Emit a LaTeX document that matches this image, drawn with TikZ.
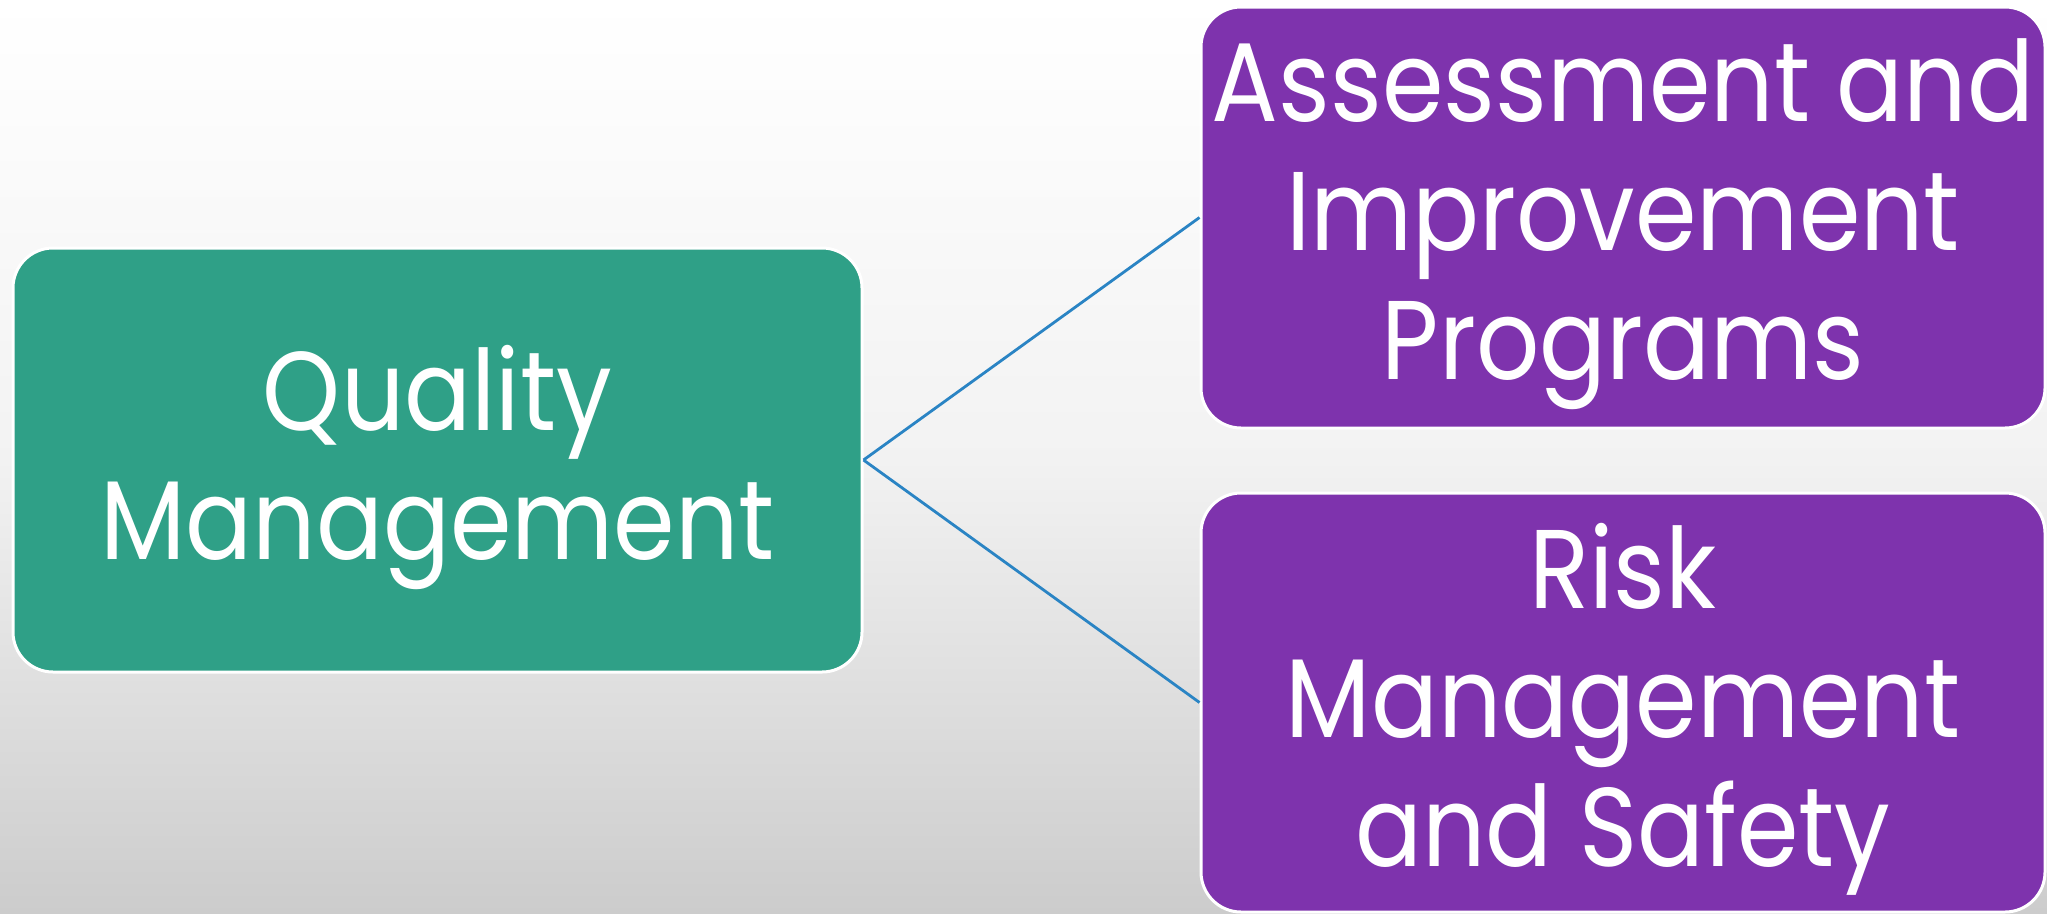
\documentclass[tikz,border=0pt]{standalone}
\usepackage{fontspec}
\setmainfont[FakeStretch=0.885]{Poppins}
\begin{document}
\begin{tikzpicture}[x=1pt,y=-1pt,
  box/.style={rectangle, rounded corners=40pt, draw=white, line width=3pt,
    text=white, align=center, inner sep=0pt, text depth=16pt,
    font=\fontsize{112}{129}\selectfont},
  quality/.style={box, fill=qgreen},
  program/.style={box, fill=ppurple},
  link/.style={draw=lblue, line width=2.8pt}]
\definecolor{qgreen}{HTML}{2FA087}
\definecolor{ppurple}{HTML}{7E33AD}
\definecolor{lblue}{HTML}{2A84C4}
% background
\shade[top color=white, bottom color=black!20, middle color=black!5]
  (0,0) rectangle (2047,913);
\useasboundingbox (0,0) rectangle (2047,913);
% boxes
\node[quality, minimum width=849pt, minimum height=424pt] (qm) at (437.5,460)
  {Quality\\Management};
\node[program, minimum width=844pt, minimum height=421pt] (aip) at (1623,217.5)
  {Assessment and\\Improvement\\Programs};
\node[program, minimum width=844pt, minimum height=419pt] (rms) at (1623,702.5)
  {Risk\\Management\\and Safety};
% connectors
\draw[link] (qm.east) -- (aip.west);
\draw[link] (qm.east) -- (rms.west);
\end{tikzpicture}
\end{document}
